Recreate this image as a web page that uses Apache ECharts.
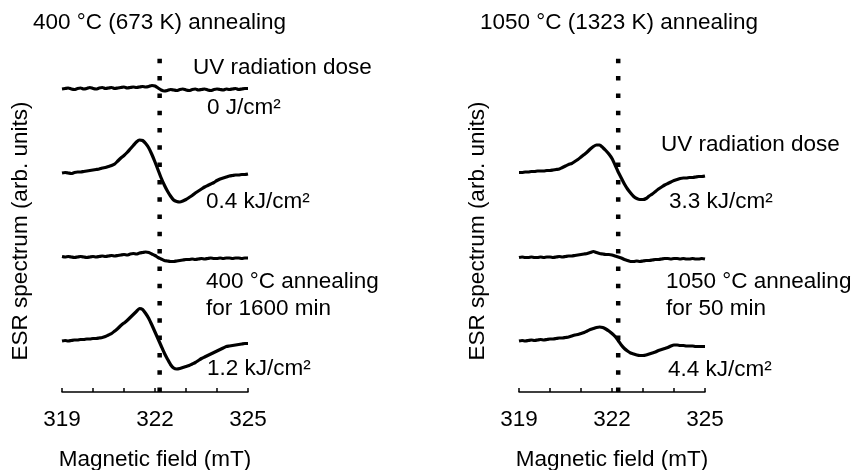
<!DOCTYPE html>
<html>
<head>
<meta charset="utf-8">
<script src="https://cdn.jsdelivr.net/npm/echarts@6/dist/echarts.min.js"></script>
<style>
  html, body { margin: 0; padding: 0; background: #fff; }
  #chart { width: 853px; height: 470px; }
</style>
</head>
<body>
<div id="chart"></div>
<script>
// magnetic field (mT), shared by all traces
const field = [
  319.0, 319.1, 319.2, 319.3, 319.4, 319.5, 319.6, 319.7, 319.8, 319.9,
  320.0, 320.1, 320.2, 320.3, 320.4, 320.5, 320.6, 320.7, 320.8, 320.9,
  321.0, 321.1, 321.2, 321.3, 321.4, 321.5, 321.6, 321.7, 321.8, 321.9,
  322.0, 322.1, 322.2, 322.3, 322.4, 322.5, 322.6, 322.7, 322.8, 322.9,
  323.0, 323.1, 323.2, 323.3, 323.4, 323.5, 323.6, 323.7, 323.8, 323.9,
  324.0, 324.1, 324.2, 324.3, 324.4, 324.5, 324.6, 324.7, 324.8, 324.9,
  325.0,
];

// 400 °C panel, stacked ESR traces (arb. units, offsets included)
const dose0 = [
  303, 303.5, 304, 303, 302.5, 303.5, 304, 303, 303.5, 304.5,
  303.5, 303, 304, 304.5, 303.5, 304, 304.5, 303.5, 304, 304.5,
  305, 304, 304.5, 305, 304.5, 305, 305.5, 305, 305.5, 306.5,
  306, 304, 302, 301, 301.5, 302.5, 302, 301.5, 302.5, 303,
  302, 301.5, 302.5, 303, 302, 302.5, 303, 302, 301.5, 302.5,
  303, 302.5, 302, 303, 302.5, 303, 303.5, 302.5, 303, 303.5,
  303.5,
];
const dose04 = [
  219, 219.5, 219, 218.5, 219.5, 220, 220, 220.5, 221, 221.5,
  222, 222.5, 223, 224, 224.5, 225.5, 226.5, 228, 231, 234,
  236.5, 239.5, 243, 246.5, 250, 252, 251.5, 248.5, 244, 237.5,
  230, 222, 214, 207, 201, 196, 192, 190.5, 190, 191,
  192.5, 194.5, 196.5, 199, 201, 203, 205, 206.5, 208, 209.5,
  211.5, 213, 214, 215, 216, 216.5, 217, 217, 217.5, 217.5,
  218,
];
const anneal400 = [
  135.5, 135, 135.5, 135, 134.5, 135, 135.5, 135, 134.5, 135,
  135.5, 135, 135.5, 136, 135.5, 136, 136.5, 136, 136.5, 137,
  137.5, 137, 138, 138.5, 138, 139, 139.5, 140, 139.5, 138,
  136.5, 134.5, 133, 131.5, 131, 130.5, 130.5, 131, 131.5, 132,
  132.5, 132.5, 133, 132.5, 133, 133.5, 133, 133.5, 134, 133.5,
  133.5, 134, 133.5, 134, 134, 133.5, 134, 134, 133.5, 134,
  134,
];
const dose12 = [
  51, 51.5, 51, 51.5, 52, 52, 52.5, 52.5, 53, 53,
  53.5, 53.5, 54, 54.5, 55.5, 57, 58.5, 61, 63.5, 66.5,
  69, 71.5, 74.5, 77.5, 80.5, 83.5, 82.5, 78.5, 73.5, 67,
  60, 53, 46, 39, 33, 27.5, 24, 23, 23.5, 24.5,
  25.5, 26.5, 28, 29.5, 31.5, 33.5, 35, 36.5, 38, 39.5,
  41, 42.5, 44, 45.5, 46, 46.5, 47, 47.5, 48, 48.5,
  48.5,
];

// 1050 °C panel
const dose33 = [
  219.5, 219.5, 220, 220, 220.5, 220.5, 221, 221, 221, 221.5,
  221.5, 222, 222.5, 223, 224.5, 226, 227.5, 228.5, 230.5, 232.5,
  235, 237.5, 240, 243, 245.5, 247, 247, 244.5, 241.5, 238,
  233.5, 227, 220, 214, 208, 203, 199, 195.5, 193.5, 192.5,
  192.5, 193.5, 196, 198, 200.5, 203, 205, 207, 208.5, 210,
  211.5, 212.5, 213.5, 214, 214, 214.5, 214.5, 215, 215.5, 215.5,
  216,
];
const anneal1050 = [
  134.5, 135, 134.5, 134.5, 135, 134.5, 134.5, 135, 134.5, 135,
  135, 134.5, 135, 135.5, 135, 135.5, 136, 136, 136.5, 137,
  137.5, 138, 138.5, 139.5, 140.5, 139.5, 138.5, 138, 137.5, 137.5,
  137, 136, 135, 134, 132.5, 131.5, 130.5, 130.5, 131, 130.5,
  131, 131.5, 131.5, 132, 132.5, 132.5, 133, 133.5, 133.5, 133,
  133.5, 133.5, 133, 133.5, 133, 133, 133.5, 133, 133, 133.5,
  133,
];
const dose44 = [
  51, 51.5, 51, 51.5, 52, 51.5, 52, 52.5, 52, 52.5,
  53, 53, 53.5, 54, 54, 54.5, 55, 56, 57, 57.5,
  58.5, 59.5, 61, 62.5, 63.5, 64.5, 65, 64.5, 63, 61,
  58.5, 55.5, 51.5, 47, 43.5, 41, 39, 38, 37, 36.5,
  36.5, 37, 38, 39, 40, 41.5, 42.5, 43.5, 44.5, 46,
  47, 47, 46.5, 46.5, 46, 46, 46, 45.5, 45.5, 45.5,
  45.5,
];

// dotted reference line position (mT) and its top (arb. units)
const refField = [322.15, 322.2];
const refTop = 339;
const tickLabels = [319, 322, 325];

const FONT = "Liberation Sans, Arial, sans-serif";
const FS = 22.5;

const chart = echarts.init(document.getElementById("chart"));

function pairs(ys) {
  return field.map((x, i) => [x, ys[i]]);
}

function trace(idx, ys) {
  return {
    type: "line", xAxisIndex: idx, yAxisIndex: idx,
    data: pairs(ys), showSymbol: false, smooth: 0.2,
    lineStyle: { color: "#000", width: 3.2 },
    silent: true, animation: false,
  };
}

function refLine(idx) {
  return {
    type: "line", xAxisIndex: idx, yAxisIndex: idx,
    data: [[refField[idx], 0], [refField[idx], refTop]],
    showSymbol: false, silent: true, animation: false,
    lineStyle: { color: "#000", width: 4.5, type: [4.5, 12.8] },
  };
}

function xAxis(idx) {
  return {
    type: "value", gridIndex: idx, min: 319, max: 325, interval: 1,
    name: "Magnetic field (mT)", nameLocation: "middle", nameGap: 56,
    nameTextStyle: { color: "#000", fontSize: FS, fontFamily: FONT },
    axisLine: { lineStyle: { color: "#000", width: 1.5 } },
    axisTick: { inside: true, length: 4, lineStyle: { color: "#000", width: 1.5 } },
    axisLabel: {
      color: "#000", fontSize: FS, fontFamily: FONT, margin: 16,
      formatter: v => (tickLabels.includes(v) ? String(v) : ""),
    },
    splitLine: { show: false },
  };
}

function yAxis(idx) {
  return { type: "value", gridIndex: idx, min: 0, max: 350, show: false };
}

function txt(x, y, s, extra) {
  return {
    type: "text", x, y, silent: true,
    style: Object.assign({
      text: s, fill: "#000", font: `${FS}px ${FONT}`,
      align: "left", verticalAlign: "middle",
    }, extra || {}),
  };
}

chart.setOption({
  backgroundColor: "#fff",
  animation: false,
  grid: [
    { left: 62, width: 186, top: 42, bottom: 78, containLabel: false, outerBoundsMode: "none" },
    { left: 519, width: 186, top: 42, bottom: 78, containLabel: false, outerBoundsMode: "none" },
  ],
  xAxis: [xAxis(0), xAxis(1)],
  yAxis: [yAxis(0), yAxis(1)],
  series: [
    refLine(0), refLine(1),
    trace(0, dose0), trace(0, dose04), trace(0, anneal400), trace(0, dose12),
    trace(1, dose33), trace(1, anneal1050), trace(1, dose44),
  ],
  graphic: [
    txt(33, 23, "400 °C (673 K) annealing"),
    txt(193, 68, "UV radiation dose"),
    txt(207, 108, "0 J/cm²"),
    txt(206, 202, "0.4 kJ/cm²"),
    txt(206, 282, "400 °C annealing"),
    txt(206, 309, "for 1600 min"),
    txt(207, 369, "1.2 kJ/cm²"),
    { type: "text", x: 21, y: 231, rotation: Math.PI / 2, silent: true,
      style: { text: "ESR spectrum (arb. units)", fill: "#000", font: `${FS}px ${FONT}`, align: "center", verticalAlign: "middle" } },

    txt(480, 23, "1050 °C (1323 K) annealing"),
    txt(661, 145, "UV radiation dose"),
    txt(669, 202, "3.3 kJ/cm²"),
    txt(666, 282, "1050 °C annealing"),
    txt(666, 309, "for 50 min"),
    txt(668, 370, "4.4 kJ/cm²"),
    { type: "text", x: 478, y: 231, rotation: Math.PI / 2, silent: true,
      style: { text: "ESR spectrum (arb. units)", fill: "#000", font: `${FS}px ${FONT}`, align: "center", verticalAlign: "middle" } },
  ],
});
</script>
</body>
</html>
